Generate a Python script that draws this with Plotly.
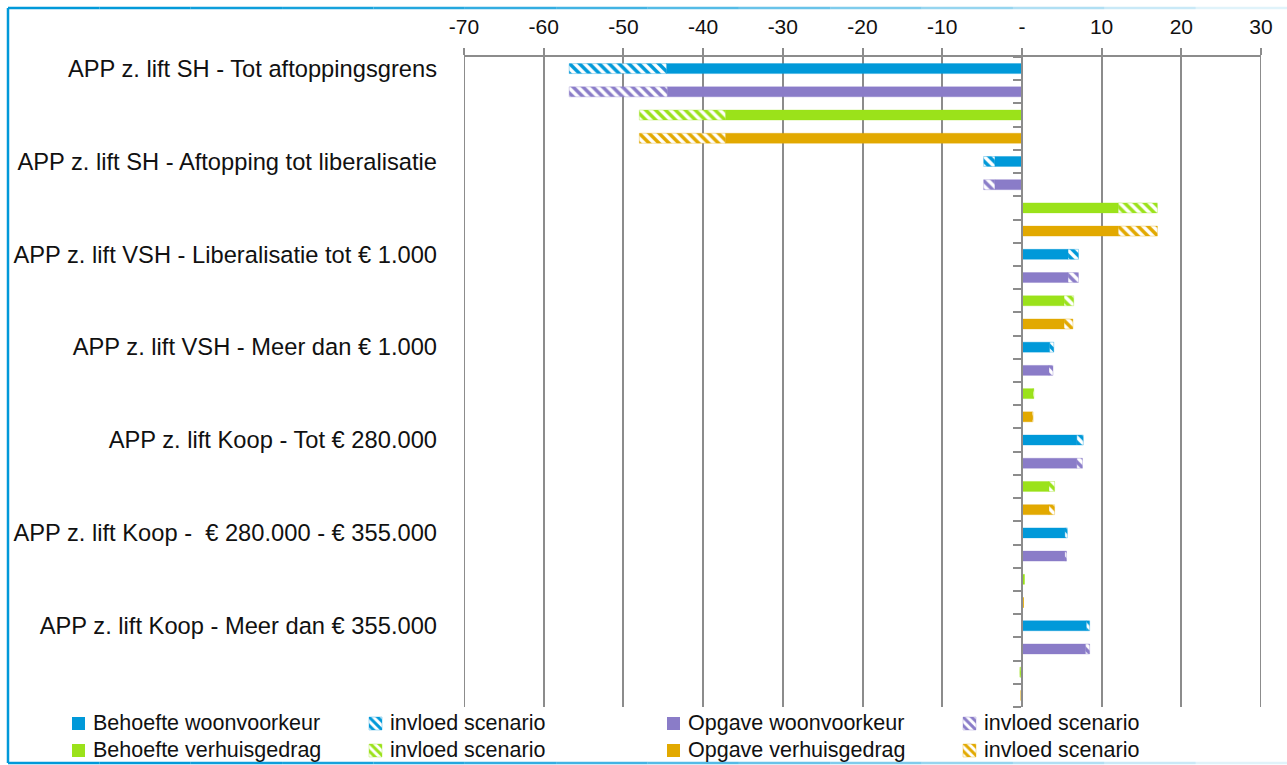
import plotly.graph_objects as go

# ---------------- data ----------------
groups = [
    "APP z. lift SH - Tot aftoppingsgrens",
    "APP z. lift SH - Aftopping tot liberalisatie",
    "APP z. lift VSH - Liberalisatie tot € 1.000",
    "APP z. lift VSH - Meer dan € 1.000",
    "APP z. lift Koop - Tot € 280.000",
    "APP z. lift Koop -  € 280.000 - € 355.000",
    "APP z. lift Koop - Meer dan € 355.000",
]
series_names = ["Behoefte woonvoorkeur", "Opgave woonvoorkeur",
                "Behoefte verhuisgedrag", "Opgave verhuisgedrag"]
scenario_name = "invloed scenario"

behoefte_woon = [-44.6, -3.4, 5.8, 3.5, 6.9, 5.4, 8.1]
behoefte_woon_scen = [-12.2, -1.4, 1.3, 0.5, 0.8, 0.3, 0.4]
opgave_woon = [-44.5, -3.4, 5.8, 3.4, 6.9, 5.4, 8.0]
opgave_woon_scen = [-12.3, -1.4, 1.3, 0.5, 0.7, 0.2, 0.5]
behoefte_verh = [-37.2, 12.1, 5.3, 1.4, 3.4, 0.3, -0.2]
behoefte_verh_scen = [-10.8, 4.9, 1.2, 0.1, 0.7, 0.0, -0.05]
opgave_verh = [-37.2, 12.1, 5.3, 1.3, 3.4, 0.2, -0.15]
opgave_verh_scen = [-10.8, 4.9, 1.1, 0.1, 0.7, 0.0, 0.0]

x_ticks = [-70, -60, -50, -40, -30, -20, -10, 0, 10, 20, 30]
x_ticktext = ["-70", "-60", "-50", "-40", "-30", "-20", "-10", "-", "10", "20", "30"]
x_range = [-70, 30]

# ---------------- style ----------------
colors = ["#0099d9", "#8a7cc8", "#9be21a", "#e2a900"]
light = ["rgba(0,153,217,0.35)", "rgba(138,124,200,0.35)",
         "rgba(155,226,26,0.35)", "rgba(226,169,0,0.35)"]
FONT = "Liberation Sans, Arial, sans-serif"
GRID = "#8c8c8c"

base_vals = [behoefte_woon, opgave_woon, behoefte_verh, opgave_verh]
scen_vals = [behoefte_woon_scen, opgave_woon_scen, behoefte_verh_scen, opgave_verh_scen]

n_series = len(series_names)
n_rows = len(groups) * n_series

W, H = 1287, 765
PL, PR, PT, PB = 464, 1261, 57, 707   # plot area in pixels


def fx(xp):
    return xp / W


def fy(yp):
    return 1 - yp / H


def hatch(color, size=7):
    return dict(shape="\\", fgcolor=color, bgcolor="white", size=size,
                solidity=0.5, fillmode="replace", fgopacity=1)


fig = go.Figure()
for s in range(n_series):
    ys = [g * n_series + s for g in range(len(groups))]
    fig.add_trace(go.Bar(
        x=base_vals[s], y=ys, orientation="h", width=0.43,
        name=series_names[s], showlegend=False,
        marker=dict(color=colors[s], line=dict(color=light[s], width=1)),
        hoverinfo="x+name",
    ))
    fig.add_trace(go.Bar(
        x=scen_vals[s], y=ys, orientation="h", width=0.43,
        name=scenario_name, showlegend=False,
        marker=dict(color="white", line=dict(color=light[s], width=1),
                    pattern=hatch(colors[s], 7)),
        hoverinfo="x+name",
    ))

# dummy trace for the zero-line axis with tick marks
fig.add_trace(go.Scatter(x=[0], y=[0], yaxis="y2", mode="none",
                         showlegend=False, hoverinfo="skip"))

# ---------------- custom legend (pixel axes) ----------------
leg_cols = [72, 369, 667, 963]
leg_rows = [723.5, 750.5]
sw = 13
annotations = []
for s in range(n_series):
    row = s // 2
    for k in range(2):
        col = (s % 2) * 2 + k
        x0 = leg_cols[col]
        yc = leg_rows[row]
        xs = [x0, x0 + sw, x0 + sw, x0, x0]
        yv = [yc - sw / 2, yc - sw / 2, yc + sw / 2, yc + sw / 2, yc - sw / 2]
        if k == 0:
            fig.add_trace(go.Scatter(
                x=xs, y=yv, xaxis="x2", yaxis="y3", mode="lines",
                fill="toself", fillcolor=colors[s], line=dict(width=0),
                showlegend=False, hoverinfo="skip"))
            label = series_names[s]
        else:
            fig.add_trace(go.Scatter(
                x=xs, y=yv, xaxis="x2", yaxis="y3", mode="lines",
                fill="toself", fillcolor="white",
                fillpattern=hatch(colors[s], 6),
                line=dict(width=1, color=light[s]),
                showlegend=False, hoverinfo="skip"))
            label = scenario_name
        annotations.append(dict(
            xref="paper", yref="paper", x=fx(x0 + sw + 6), y=fy(yc - 1),
            text=label, showarrow=False, xanchor="left", yanchor="middle",
            font=dict(size=21.5, family=FONT, color="#111111")))

# ---------------- frame & edge gridlines ----------------
shapes = []
for xv in x_range:
    shapes.append(dict(type="line", xref="x", yref="paper",
                       x0=xv, x1=xv, y0=fy(PB), y1=fy(PT),
                       line=dict(color=GRID, width=2), layer="below"))
blue = "0,153,217"
shapes.append(dict(type="line", xref="paper", yref="paper",
                   x0=fx(8), x1=fx(8), y0=fy(8), y1=fy(763),
                   line=dict(color=f"rgb({blue})", width=2.5)))
nseg = 14
x_start, x_end = 8, 1287
for i in range(nseg):
    xa = x_start + (x_end - x_start) * i / nseg
    xb = x_start + (x_end - x_start) * (i + 1) / nseg
    op = max(0.12, 1.0 - 0.9 * (i / (nseg - 1)) ** 1.6)
    for yy in (8, 763):
        shapes.append(dict(type="line", xref="paper", yref="paper",
                           x0=fx(xa), x1=fx(xb), y0=fy(yy), y1=fy(yy),
                           line=dict(color=f"rgba({blue},{op:.2f})", width=2.5)))

zero_frac = (0 - x_range[0]) / (x_range[1] - x_range[0])
fig.update_layout(
    width=W, height=H,
    margin=dict(l=0, r=0, t=0, b=0, autoexpand=False),
    paper_bgcolor="white", plot_bgcolor="rgba(0,0,0,0)",
    barmode="relative",
    font=dict(family=FONT, color="#111111", size=20),
    showlegend=False,
    xaxis=dict(
        domain=[fx(PL), fx(PR)], anchor="y",
        side="top", range=x_range, tickvals=x_ticks, ticktext=x_ticktext,
        showgrid=True, gridcolor=GRID, gridwidth=2,
        showline=True, linecolor=GRID, linewidth=2,
        ticks="outside", ticklen=7, tickwidth=2, tickcolor=GRID,
        zeroline=False, tickfont=dict(size=21, family=FONT, color="#111111"),
        ticklabelstandoff=6, fixedrange=True,
    ),
    yaxis=dict(
        domain=[fy(PB), fy(PT)], anchor="x",
        range=[n_rows - 0.5, -0.5],
        tickvals=[g * n_series for g in range(len(groups))],
        ticktext=groups, showgrid=False, zeroline=False, showline=False,
        ticks="", tickfont=dict(size=23.7, family=FONT, color="#111111"),
        ticklabelstandoff=26, fixedrange=True,
    ),
    yaxis2=dict(
        overlaying="y", anchor="free",
        position=fx(PL + zero_frac * (PR - PL)), side="left",
        range=[n_rows - 0.5, -0.5],
        tickvals=[i + 0.5 for i in range(-1, n_rows)],
        showticklabels=False, ticks="outside", ticklen=8, tickwidth=2,
        tickcolor=GRID, showline=True, linecolor=GRID, linewidth=2,
        showgrid=False, zeroline=False, fixedrange=True,
    ),
    xaxis2=dict(domain=[0, 1], range=[0, W], anchor="y3", visible=False,
                fixedrange=True),
    yaxis3=dict(domain=[0, 1], range=[H, 0], anchor="x2", visible=False,
                fixedrange=True),
    shapes=shapes,
    annotations=annotations,
)

fig.write_html("out.html", config={"displayModeBar": False},
               post_script="document.body.style.margin='0';document.body.style.padding='0';")
